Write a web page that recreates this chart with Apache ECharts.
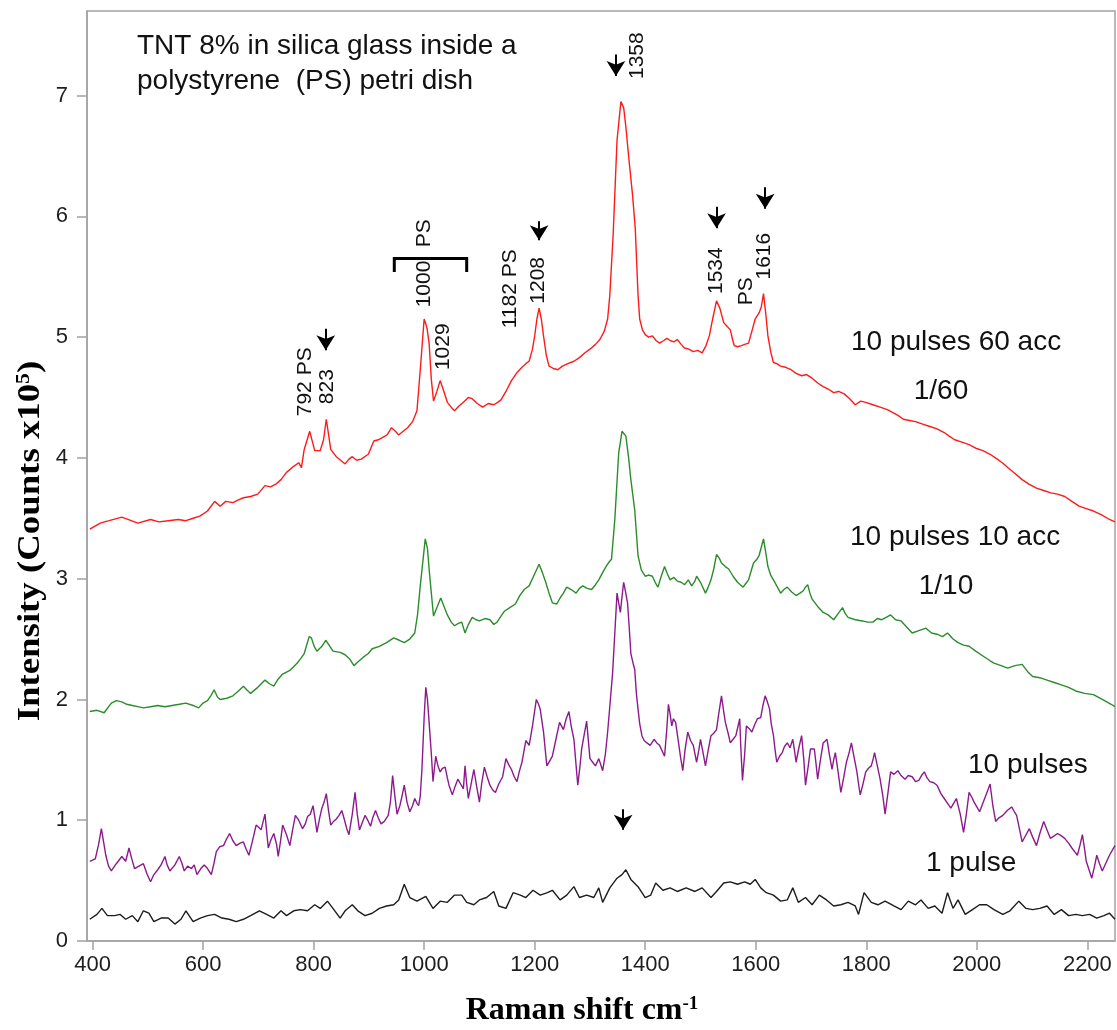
<!DOCTYPE html>
<html>
<head>
<meta charset="utf-8">
<title>TNT Raman spectra</title>
<script src="https://cdn.jsdelivr.net/npm/echarts@6/dist/echarts.min.js"></script>
<style>
  html, body { margin: 0; padding: 0; background: #ffffff; }
  #chart { width: 1117px; height: 1030px; }
</style>
</head>
<body>
<div id="chart"></div>
<script>
// ---- Spectra (Raman shift in cm-1, intensity in counts x10^5) ----
const redX = [395,414,430,453,470,482,505,520,537,555,569,582,595,608,621,631,641,654,663,673,686,699,712,722,731,741,751,764,773,778,783,793,802,812,818,823,831,841,849,857,864,870,878,886,899,909,917,925,933,941,948,954,962,970,979,987,993,1000,1005,1009,1013,1017,1023,1029,1035,1042,1049,1055,1063,1071,1080,1087,1096,1106,1116,1126,1133,1139,1148,1158,1167,1177,1184,1190,1196,1200,1204,1208,1212,1216,1221,1226,1234,1242,1250,1260,1271,1281,1291,1300,1310,1318,1326,1332,1336,1342,1349,1356,1361,1365,1371,1377,1382,1387,1390,1395,1400,1406,1413,1420,1426,1433,1439,1446,1452,1458,1465,1471,1479,1487,1495,1503,1510,1516,1522,1529,1535,1542,1548,1554,1558,1561,1567,1574,1580,1587,1593,1599,1606,1610,1614,1618,1622,1627,1632,1638,1645,1654,1664,1673,1683,1692,1702,1712,1722,1731,1741,1750,1760,1770,1780,1790,1799,1812,1825,1838,1850,1858,1867,1878,1889,1902,1915,1928,1941,1950,1960,1973,1986,1998,2011,2024,2037,2046,2056,2069,2082,2095,2108,2121,2134,2146,2159,2172,2185,2198,2211,2225,2240,2250];
const redY = [3.41,3.46,3.48,3.51,3.48,3.46,3.49,3.47,3.48,3.49,3.48,3.50,3.52,3.56,3.64,3.60,3.64,3.63,3.65,3.67,3.68,3.70,3.77,3.76,3.78,3.82,3.88,3.93,3.96,3.92,4.07,4.22,4.06,4.06,4.15,4.32,4.07,4.01,3.98,3.95,3.99,4.01,3.98,3.99,4.03,4.14,4.15,4.17,4.19,4.25,4.22,4.19,4.22,4.25,4.30,4.39,4.73,5.15,5.08,4.95,4.65,4.47,4.55,4.64,4.56,4.46,4.42,4.39,4.43,4.46,4.50,4.49,4.45,4.42,4.45,4.44,4.46,4.48,4.55,4.64,4.70,4.75,4.78,4.80,4.90,5.01,5.15,5.24,5.15,5.01,4.85,4.76,4.74,4.73,4.76,4.78,4.80,4.83,4.87,4.90,4.94,4.98,5.05,5.15,5.35,5.85,6.63,6.95,6.90,6.74,6.45,6.18,5.90,5.35,5.15,5.06,5.02,5.00,5.01,4.97,4.95,4.97,4.99,4.97,4.96,4.98,4.94,4.91,4.90,4.88,4.89,4.87,4.93,5.01,5.15,5.30,5.24,5.12,5.09,5.06,4.98,4.93,4.92,4.93,4.94,4.95,5.05,5.15,5.20,5.25,5.36,5.20,5.01,4.88,4.79,4.78,4.76,4.75,4.73,4.70,4.68,4.69,4.66,4.62,4.59,4.57,4.54,4.55,4.53,4.49,4.44,4.47,4.46,4.44,4.42,4.40,4.37,4.35,4.32,4.31,4.30,4.28,4.26,4.24,4.21,4.18,4.15,4.13,4.11,4.08,4.06,4.03,3.99,3.96,3.92,3.87,3.82,3.78,3.75,3.73,3.71,3.70,3.68,3.64,3.60,3.58,3.56,3.53,3.49,3.47];

const greenX = [395,408,421,434,443,453,462,472,482,492,505,518,531,544,557,569,582,592,600,608,614,620,626,631,643,654,664,673,679,686,699,712,720,728,736,744,757,770,777,783,792,796,801,806,815,822,828,835,848,857,866,873,880,890,899,906,919,932,945,955,964,974,983,988,993,1002,1006,1009,1013,1017,1023,1030,1036,1042,1049,1055,1062,1068,1074,1080,1087,1094,1100,1110,1119,1126,1132,1139,1145,1155,1165,1173,1181,1190,1198,1204,1208,1214,1220,1226,1232,1240,1246,1252,1258,1266,1275,1281,1287,1295,1303,1310,1316,1323,1329,1335,1339,1345,1352,1358,1365,1370,1374,1381,1387,1393,1400,1406,1413,1418,1423,1429,1435,1440,1445,1452,1458,1465,1471,1478,1484,1490,1493,1500,1509,1514,1519,1524,1529,1534,1538,1545,1551,1559,1567,1572,1577,1582,1587,1592,1596,1602,1606,1610,1614,1618,1622,1627,1632,1638,1645,1651,1657,1665,1673,1680,1686,1690,1694,1698,1702,1712,1722,1731,1741,1749,1757,1762,1767,1780,1793,1802,1812,1820,1828,1836,1844,1853,1863,1873,1883,1895,1908,1918,1928,1938,1947,1957,1966,1976,1986,1998,2011,2024,2031,2044,2056,2069,2082,2092,2101,2114,2127,2140,2153,2166,2179,2195,2211,2227,2243,2250];
const greenY = [1.90,1.91,1.89,1.97,1.99,1.98,1.96,1.95,1.94,1.93,1.94,1.95,1.94,1.95,1.96,1.97,1.95,1.93,1.97,1.99,2.03,2.08,2.02,2.00,2.01,2.03,2.07,2.11,2.08,2.05,2.10,2.16,2.13,2.11,2.17,2.21,2.24,2.30,2.34,2.38,2.52,2.51,2.44,2.40,2.44,2.49,2.45,2.40,2.39,2.37,2.33,2.28,2.31,2.35,2.38,2.42,2.44,2.47,2.51,2.49,2.47,2.50,2.55,2.70,2.94,3.33,3.25,3.08,2.88,2.69,2.76,2.84,2.77,2.70,2.64,2.61,2.63,2.64,2.55,2.62,2.68,2.66,2.65,2.67,2.66,2.62,2.64,2.69,2.73,2.76,2.79,2.86,2.91,2.94,3.02,3.08,3.12,3.05,2.97,2.88,2.80,2.79,2.84,2.88,2.93,2.91,2.88,2.92,2.94,2.92,2.91,2.95,2.99,3.05,3.10,3.14,3.16,3.49,4.04,4.22,4.18,4.00,3.82,3.57,3.19,3.07,3.02,3.03,3.02,2.97,2.93,3.02,3.10,3.04,2.99,3.01,2.98,2.97,2.95,2.99,2.94,2.98,3.02,2.97,2.88,2.93,2.99,3.08,3.20,3.17,3.13,3.10,3.08,3.02,2.97,2.95,2.93,2.96,2.99,3.07,3.13,3.16,3.19,3.26,3.33,3.22,3.10,3.03,2.99,2.94,2.88,2.91,2.93,2.89,2.86,2.88,2.90,2.93,2.95,2.88,2.83,2.77,2.72,2.70,2.66,2.71,2.76,2.71,2.68,2.66,2.65,2.64,2.64,2.67,2.66,2.68,2.70,2.66,2.65,2.60,2.55,2.57,2.59,2.55,2.54,2.52,2.55,2.50,2.47,2.45,2.44,2.40,2.36,2.32,2.30,2.28,2.26,2.28,2.29,2.23,2.19,2.18,2.16,2.14,2.12,2.10,2.07,2.05,2.04,2.00,1.96,1.94];

const purpleX = [395,405,411,416,420,424,429,434,443,453,460,466,471,476,484,492,499,505,511,518,524,531,535,540,549,557,562,566,572,579,584,589,596,602,608,615,620,624,630,637,642,648,654,660,667,673,678,683,690,696,701,705,712,718,723,728,733,736,740,744,751,757,762,767,773,780,785,789,794,799,803,806,811,815,819,823,827,831,836,841,846,851,856,860,864,870,875,879,883,888,893,898,903,907,912,917,922,928,935,939,943,947,951,956,960,964,969,974,979,983,987,990,993,996,1000,1003,1006,1009,1013,1016,1021,1025,1029,1033,1038,1042,1045,1051,1056,1061,1066,1071,1074,1077,1080,1085,1090,1095,1100,1104,1109,1114,1119,1124,1129,1135,1142,1148,1153,1158,1163,1168,1172,1177,1184,1190,1196,1203,1207,1210,1216,1222,1227,1232,1238,1245,1252,1257,1262,1266,1271,1275,1278,1282,1285,1290,1294,1300,1305,1310,1316,1323,1328,1332,1337,1341,1345,1349,1352,1355,1358,1361,1364,1368,1371,1374,1378,1381,1384,1387,1390,1394,1398,1403,1409,1416,1421,1426,1430,1435,1439,1442,1445,1448,1451,1455,1460,1464,1468,1472,1477,1482,1487,1490,1493,1497,1500,1505,1509,1514,1519,1524,1529,1533,1538,1542,1545,1550,1554,1559,1564,1568,1571,1573,1576,1580,1583,1588,1593,1598,1603,1609,1613,1617,1621,1625,1628,1632,1635,1638,1643,1648,1652,1657,1662,1667,1670,1673,1678,1683,1687,1690,1695,1699,1706,1709,1712,1717,1722,1729,1733,1738,1741,1744,1749,1754,1759,1764,1769,1773,1778,1783,1786,1789,1794,1799,1804,1809,1812,1815,1820,1825,1830,1834,1839,1844,1850,1857,1863,1870,1876,1883,1889,1895,1900,1905,1910,1915,1922,1928,1935,1941,1947,1953,1958,1963,1970,1976,1981,1986,1991,1995,2000,2005,2010,2015,2020,2024,2029,2034,2040,2047,2055,2063,2068,2072,2077,2082,2089,2095,2101,2108,2114,2121,2127,2133,2140,2146,2153,2159,2166,2172,2177,2182,2187,2191,2195,2198,2203,2208,2213,2217,2222,2227,2234,2240,2245,2250];
const purpleY = [0.66,0.68,0.80,0.93,0.82,0.71,0.62,0.58,0.64,0.70,0.66,0.77,0.68,0.60,0.62,0.64,0.55,0.49,0.55,0.59,0.63,0.70,0.63,0.58,0.63,0.70,0.64,0.58,0.62,0.60,0.63,0.55,0.60,0.63,0.60,0.55,0.65,0.74,0.78,0.79,0.84,0.89,0.83,0.79,0.81,0.82,0.76,0.71,0.84,0.96,0.94,0.92,1.05,0.77,0.84,0.89,0.80,0.70,0.82,0.96,0.88,0.79,0.92,1.04,1.00,0.93,0.97,1.03,1.05,1.12,1.00,0.90,1.02,1.10,1.15,1.22,1.08,0.96,0.99,1.01,1.04,1.08,1.00,0.93,0.88,1.05,1.23,1.05,0.92,0.98,1.04,1.00,0.95,1.02,1.08,1.02,0.97,0.99,1.04,1.15,1.37,1.20,1.05,1.12,1.20,1.29,1.15,1.07,1.12,1.18,1.14,1.12,1.20,1.42,1.85,2.10,2.00,1.81,1.55,1.32,1.53,1.45,1.40,1.43,1.44,1.35,1.29,1.21,1.28,1.34,1.30,1.26,1.45,1.30,1.18,1.30,1.42,1.28,1.15,1.30,1.44,1.36,1.29,1.25,1.23,1.30,1.36,1.51,1.46,1.42,1.36,1.32,1.40,1.48,1.66,1.62,1.78,2.00,1.96,1.92,1.73,1.45,1.49,1.53,1.66,1.81,1.75,1.84,1.90,1.78,1.67,1.45,1.29,1.45,1.59,1.72,1.82,1.51,1.48,1.45,1.51,1.41,1.55,1.73,2.00,2.22,2.55,2.88,2.80,2.72,2.85,2.97,2.90,2.80,2.60,2.38,2.30,2.25,2.05,1.92,1.80,1.70,1.66,1.64,1.62,1.67,1.64,1.62,1.58,1.53,1.75,1.96,1.88,1.78,1.84,1.81,1.65,1.52,1.41,1.58,1.73,1.66,1.62,1.55,1.48,1.58,1.67,1.55,1.45,1.58,1.70,1.72,1.75,1.88,2.03,1.90,1.81,1.72,1.64,1.67,1.70,1.78,1.84,1.60,1.33,1.55,1.78,1.76,1.73,1.79,1.84,1.85,1.95,2.03,1.98,1.92,1.80,1.70,1.58,1.48,1.53,1.56,1.61,1.64,1.60,1.67,1.58,1.48,1.60,1.70,1.50,1.29,1.45,1.59,1.59,1.47,1.34,1.50,1.64,1.67,1.55,1.42,1.50,1.56,1.40,1.23,1.35,1.48,1.56,1.64,1.52,1.40,1.30,1.21,1.30,1.40,1.43,1.45,1.50,1.56,1.45,1.34,1.20,1.05,1.22,1.40,1.38,1.41,1.37,1.34,1.37,1.36,1.32,1.33,1.37,1.40,1.35,1.32,1.31,1.29,1.22,1.18,1.14,1.10,1.14,1.18,1.05,0.90,1.05,1.23,1.19,1.15,1.11,1.07,1.13,1.19,1.25,1.30,1.12,0.99,1.02,1.04,1.08,1.11,1.07,1.04,0.93,0.82,0.88,0.93,0.86,0.79,0.89,0.99,0.92,0.85,0.87,0.89,0.87,0.85,0.81,0.77,0.74,0.71,0.80,0.88,0.76,0.66,0.59,0.52,0.62,0.71,0.64,0.58,0.65,0.71,0.75,0.79];

const blackX = [395,408,417,427,440,450,460,472,482,492,502,511,524,537,549,560,569,582,595,608,621,634,647,660,673,686,702,715,728,741,751,764,776,789,802,812,825,835,848,857,870,880,893,906,919,932,945,954,964,974,987,1003,1016,1029,1042,1055,1068,1077,1090,1100,1113,1126,1135,1148,1161,1174,1184,1197,1210,1223,1232,1246,1258,1271,1281,1294,1307,1316,1323,1336,1349,1358,1365,1374,1387,1400,1410,1419,1432,1445,1458,1474,1490,1503,1519,1529,1542,1554,1567,1580,1590,1599,1609,1619,1632,1645,1657,1667,1677,1690,1702,1715,1728,1741,1754,1767,1780,1786,1796,1809,1821,1834,1850,1863,1876,1889,1899,1912,1924,1937,1947,1957,1966,1979,1992,2005,2018,2031,2047,2060,2076,2089,2101,2114,2127,2140,2153,2166,2179,2191,2204,2217,2230,2240,2250];
const blackY = [0.18,0.22,0.27,0.21,0.21,0.22,0.18,0.21,0.16,0.25,0.23,0.16,0.19,0.19,0.14,0.18,0.25,0.16,0.19,0.21,0.22,0.19,0.18,0.16,0.18,0.21,0.25,0.22,0.19,0.25,0.21,0.25,0.26,0.25,0.30,0.27,0.33,0.27,0.19,0.25,0.30,0.25,0.21,0.23,0.27,0.29,0.30,0.34,0.47,0.36,0.33,0.37,0.27,0.33,0.32,0.38,0.38,0.32,0.30,0.34,0.36,0.41,0.29,0.27,0.40,0.38,0.36,0.42,0.38,0.40,0.42,0.34,0.38,0.45,0.36,0.38,0.36,0.44,0.32,0.44,0.52,0.55,0.59,0.51,0.45,0.36,0.38,0.48,0.42,0.44,0.41,0.44,0.41,0.44,0.36,0.41,0.48,0.49,0.47,0.49,0.47,0.51,0.44,0.40,0.38,0.33,0.34,0.44,0.32,0.36,0.30,0.38,0.34,0.29,0.30,0.32,0.29,0.22,0.40,0.32,0.30,0.33,0.29,0.26,0.33,0.30,0.34,0.27,0.29,0.23,0.40,0.27,0.34,0.22,0.26,0.30,0.30,0.26,0.22,0.25,0.33,0.27,0.26,0.27,0.29,0.22,0.26,0.21,0.22,0.21,0.22,0.19,0.21,0.23,0.18];

// ---- Axis ticks ----
const xTickValues = [400, 600, 800, 1000, 1200, 1400, 1600, 1800, 2000, 2200];
const yTickValues = [0, 1, 2, 3, 4, 5, 6, 7];

// ---- Series names / curve labels ----
const seriesNames = ['10 pulses 60 acc', '10 pulses 10 acc', '10 pulses', '1 pulse'];

// Peak assignments written beside the spectra (rotated), in data coordinates
const peakLabels = [
  { text: '1358',   at: [1385, 7.33] },
  { text: '1534',   at: [1528, 5.55] },
  { text: 'PS',     at: [1582, 5.38] },
  { text: '1616',   at: [1615, 5.67] },
  { text: 'PS',     at: [1001, 5.86] },
  { text: '1000',   at: [1001, 5.44] },
  { text: '1182 PS', at: [1155, 5.40] },
  { text: '1208',   at: [1206, 5.47] },
  { text: '792 PS', at: [785, 4.63] },
  { text: '823',    at: [825, 4.59] },
  { text: '1029',   at: [1035, 4.92] }
];

// Arrows: [shift, tail, tip]
const redArrows = [[822, 5.07, 4.83], [1208, 5.96, 5.74], [1347, 7.34, 7.10], [1529, 6.08, 5.84], [1617, 6.24, 6.00]];
const blackArrows = [[1360, 1.09, 0.86]];

// Bracket spanning the PS bands around 1000-1029
const bracketPath = [[946, 5.54], [946, 5.65], [1077, 5.65], [1077, 5.54]];

const zip = (xs, ys) => xs.map((x, i) => [x, ys[i]]);

const SANS = '"Liberation Sans", Arial, sans-serif';
const SERIF = '"Liberation Serif", "Times New Roman", serif';
const ARROW_HALF = 0.062; // half of the arrow head length, in intensity units

function arrowMarks(list) {
  return {
    silent: true,
    animation: false,
    symbol: ['none', 'arrow'],
    symbolSize: [14, 15],
    label: { show: false },
    lineStyle: { color: '#000', width: 2, type: 'solid', opacity: 1 },
    itemStyle: { color: '#000' },
    emphasis: { disabled: true },
    data: list.map(a => [
      { coord: [a[0], a[1]] },
      { coord: [a[0], a[2] + ARROW_HALF] }
    ])
  };
}

function spectrum(name, xs, ys, color, extra) {
  return Object.assign({
    name: name,
    type: 'line',
    data: zip(xs, ys),
    showSymbol: false,
    symbol: 'none',
    silent: true,
    lineStyle: { color: color, width: 1.4 },
    itemStyle: { color: color },
    z: 3
  }, extra || {});
}

const chart = echarts.init(document.getElementById('chart'));

chart.setOption({
  animation: false,
  backgroundColor: '#ffffff',
  grid: {
    left: 87, right: 2, top: 11, bottom: 89,
    show: true, borderColor: '#a3a3a3', borderWidth: 1.5
  },
  xAxis: {
    type: 'value',
    min: 390, max: 2250,
    axisLine: { show: true, lineStyle: { color: '#a3a3a3', width: 1.5 } },
    axisTick: { show: true, length: 9, lineStyle: { color: '#a3a3a3', width: 1.5 }, customValues: xTickValues },
    axisLabel: {
      margin: 13, color: '#1e1e1e', fontSize: 22, fontFamily: SANS,
      customValues: xTickValues, formatter: v => String(v)
    },
    splitLine: { show: false }
  },
  yAxis: {
    type: 'value',
    min: 0, max: 7.7,
    axisLine: { show: true, lineStyle: { color: '#a3a3a3', width: 1.5 } },
    axisTick: { show: true, length: 10, lineStyle: { color: '#a3a3a3', width: 1.5 }, customValues: yTickValues },
    axisLabel: {
      margin: 19, color: '#1e1e1e', fontSize: 22, fontFamily: SANS,
      customValues: yTickValues, formatter: v => String(v)
    },
    splitLine: { show: false }
  },
  series: [
    spectrum(seriesNames[3], blackX, blackY, '#1c1c1c', { markLine: arrowMarks(blackArrows) }),
    spectrum(seriesNames[2], purpleX, purpleY, '#8c1a8c'),
    spectrum(seriesNames[1], greenX, greenY, '#2a8d2a'),
    spectrum(seriesNames[0], redX, redY, '#ff1a1a', { markLine: arrowMarks(redArrows) }),
    {
      name: 'PS bracket',
      type: 'line',
      data: bracketPath,
      showSymbol: false,
      symbol: 'none',
      silent: true,
      lineStyle: { color: '#000', width: 3, join: 'miter' },
      z: 4
    }
  ]
});

// Text drawn on top of the plot
const txt = (x, y, text, opts) => Object.assign({
  type: 'text', x: x, y: y, silent: true, z: 10,
  style: Object.assign({
    text: text, fill: '#111', fontSize: 28, fontFamily: SANS,
    align: 'left', verticalAlign: 'middle', textAlign: 'left', textVerticalAlign: 'middle'
  }, (opts && opts.style) || {})
}, (opts && opts.el) || {});

const graphics = [
  txt(137, 46, 'TNT 8% in silica glass inside a'),
  txt(137, 81, 'polystyrene  (PS) petri dish'),
  txt(851, 342, seriesNames[0]),
  txt(941, 391, '1/60', { style: { align: 'center', textAlign: 'center' } }),
  txt(850, 537, seriesNames[1]),
  txt(946, 586, '1/10', { style: { align: 'center', textAlign: 'center' } }),
  txt(968, 765, seriesNames[2]),
  txt(926, 863, seriesNames[3])
];

peakLabels.forEach(p => {
  const pt = chart.convertToPixel({ xAxisIndex: 0, yAxisIndex: 0 }, p.at);
  graphics.push(txt(pt[0], pt[1], p.text, {
    el: { rotation: Math.PI / 2 },
    style: { fontSize: 21, align: 'center', textAlign: 'center' }
  }));
});

// Axis titles
const titleRich = {
  a: { fontFamily: SERIF, fontWeight: 'bold', fontSize: 32, fill: '#000', color: '#000' },
  s: { fontFamily: SERIF, fontWeight: 'bold', fontSize: 19, fill: '#000', color: '#000', verticalAlign: 'top' }
};
graphics.push({
  type: 'text', x: 582, y: 1011, silent: true, z: 10,
  style: {
    text: '{a|Raman shift cm}{s|-1}',
    align: 'center', verticalAlign: 'middle', textAlign: 'center', textVerticalAlign: 'middle',
    rich: titleRich
  }
});
graphics.push({
  type: 'text', x: 31, y: 541, rotation: Math.PI / 2, scaleX: 1.15, silent: true, z: 10,
  style: {
    text: '{a|Intensity (Counts x10}{s|5}{a|)}',
    align: 'center', verticalAlign: 'middle', textAlign: 'center', textVerticalAlign: 'middle',
    rich: titleRich
  }
});

chart.setOption({ graphic: { elements: graphics } });
</script>
</body>
</html>
